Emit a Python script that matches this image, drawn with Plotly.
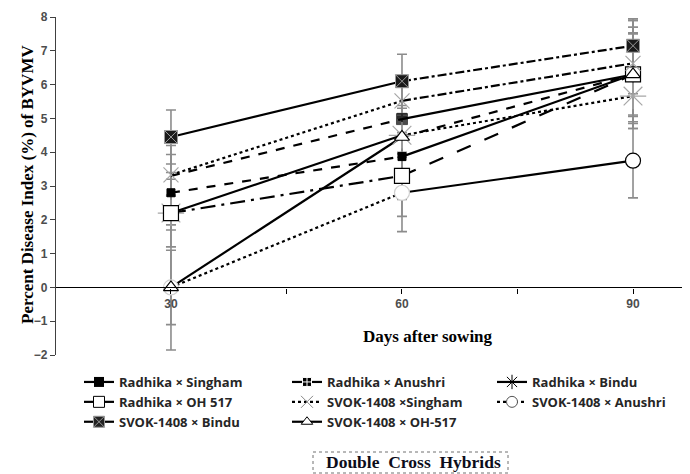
import plotly.graph_objects as go

# ---------------- data ----------------
days = [30, 60, 90]
x_tick_vals = [30, 45, 60, 75, 90]
x_tick_text = ["30", "", "60", "", "90"]

series_names = [
    "Radhika × Singham", "Radhika × Anushri", "Radhika × Bindu",
    "Radhika × OH 517", "SVOK-1408 ×Singham", "SVOK-1408 × Anushri",
    "SVOK-1408 × Bindu", "SVOK-1408 × OH-517",
]

radhika_singham = [3.3, 4.98, 6.3]
radhika_anushri = [2.8, 3.87, 6.3]
radhika_bindu = [2.2, 4.5, 5.66]
radhika_oh517 = [2.2, 3.3, 6.3]
svok_singham = [3.33, 5.52, 6.63]
svok_anushri = [0.0, 2.8, 3.75]
svok_bindu = [4.45, 6.1, 7.15]
svok_oh517 = [0.0, 4.45, 6.3]

err_radhika_singham = [0.9, 0.4, 1.6]
err_radhika_anushri = [0.6, 1.27, 1.6]
err_radhika_bindu = [1.0, 0.5, 0.6]
err_radhika_oh517 = [0.5, 1.2, 1.4]
err_svok_singham = [0.6, 0.5, 0.9]
err_svok_anushri = [1.85, 1.15, 1.1]
err_svok_bindu = [0.8, 0.8, 0.8]
err_svok_oh517 = [1.1, 0.6, 1.2]

values = [radhika_singham, radhika_anushri, radhika_bindu, radhika_oh517,
          svok_singham, svok_anushri, svok_bindu, svok_oh517]
errors = [err_radhika_singham, err_radhika_anushri, err_radhika_bindu, err_radhika_oh517,
          err_svok_singham, err_svok_anushri, err_svok_bindu, err_svok_oh517]

# ---------------- styles ----------------
seg_dash = [
    ["dash", "solid"],          # Radhika x Singham
    ["dash", "solid"],          # Radhika x Anushri
    ["solid", "dot"],           # Radhika x Bindu
    ["longdashdot", "longdash"],# Radhika x OH 517
    ["dot", "dashdot"],         # SVOK x Singham
    ["dot", "solid"],           # SVOK x Anushri
    ["solid", "dashdot"],       # SVOK x Bindu
    ["solid", "dash"],          # SVOK x OH-517
]
legend_dash = ["solid", "solid", "solid", "solid", "dot", "dot", "solid", "solid"]
legend_column = ["legend", "legend2", "legend3", "legend", "legend2", "legend3", "legend", "legend2"]

GRAY = "#a6a6a6"
markers = [
    dict(symbol="square", size=[0, 11, 11], color="black", line=dict(color="black", width=1)),
    dict(symbol="square", size=8, color="black", line=dict(color="black", width=1)),
    dict(symbol="asterisk-open", size=22, color=GRAY, line=dict(color=GRAY, width=1.2)),
    dict(symbol="square", size=15, color="white", line=dict(color="black", width=1.2)),
    dict(symbol="x-thin-open", size=15, color=GRAY, line=dict(color=GRAY, width=1.2)),
    dict(symbol="circle", size=15, color="white",
         line=dict(color=["#d0d0d0", "#d0d0d0", "black"], width=1.2)),
    dict(symbol="square-x", size=13, color="#1a1a1a", line=dict(color="#9a9a9a", width=1)),
    dict(symbol="triangle-up", size=13, color="white", line=dict(color="black", width=1.2)),
]
legend_markers = [
    dict(symbol="square", size=10, color="black"),
    dict(symbol="square-cross", size=9, color="black", line=dict(color="white", width=1)),
    dict(symbol="asterisk-open", size=12, color="black", line=dict(color="black", width=1)),
    dict(symbol="square", size=11, color="white", line=dict(color="black", width=1)),
    dict(symbol="x-thin-open", size=12, color="#888", line=dict(color="#888", width=1)),
    dict(symbol="circle", size=11, color="white", line=dict(color="#555", width=1)),
    dict(symbol="square-x", size=11, color="#222", line=dict(color="#999", width=1)),
    dict(symbol="triangle-up", size=10, color="white", line=dict(color="black", width=1)),
]

fig = go.Figure()

for v, e in zip(values, errors):
    fig.add_trace(go.Scatter(
        x=days, y=v, mode="markers", marker=dict(size=0, opacity=0),
        error_y=dict(type="data", array=e, visible=True, color="#8c8c8c", thickness=1.6, width=5),
        showlegend=False, hoverinfo="skip"))

for v, dashes in zip(values, seg_dash):
    for i in range(len(days) - 1):
        fig.add_trace(go.Scatter(
            x=days[i:i + 2], y=v[i:i + 2], mode="lines",
            line=dict(color="black", width=2.2, dash=dashes[i]),
            showlegend=False, hoverinfo="skip"))

for v, m in zip(values, markers):
    fig.add_trace(go.Scatter(x=days, y=v, mode="markers", marker=m, showlegend=False))

for name, d, m, lg in zip(series_names, legend_dash, legend_markers, legend_column):
    fig.add_trace(go.Scatter(
        x=[None], y=[None], mode="lines+markers", name=name, legend=lg,
        line=dict(color="black", width=2.2, dash=d), marker=m))

# page body has an 8px margin, so the figure is drawn 8px right/down
OFF = 8
W, H = 690 - OFF, 474 - OFF
L, T = 55 - OFF, 17 - OFF
B = H - (355 - OFF)
R = 0
pw, ph = W - L - R, H - T - B
y0_frac = 2 / 10.0


def px(xp):
    return (xp - OFF - L) / pw


def py(yp):
    return (H - B - (yp - OFF)) / ph


legend_font = dict(size=13, color="#262626", family="Open Sans, Liberation Sans, sans-serif", weight="bold")


def legend_at(xpix):
    return dict(orientation="v", x=px(xpix), y=py(367), xanchor="left", yanchor="top",
                traceorder="normal", font=legend_font, itemwidth=30,
                bgcolor="rgba(0,0,0,0)", tracegroupgap=0)


fig.update_layout(
    width=W, height=H,
    margin=dict(l=L, r=R, t=T, b=B),
    paper_bgcolor="white", plot_bgcolor="white",
    font=dict(family="Liberation Sans, Arial, sans-serif", color="#404040"),
    xaxis=dict(
        range=[14.94, 97.4], tickvals=x_tick_vals, ticktext=x_tick_text,
        anchor="free", position=y0_frac, showline=True, linecolor="black", linewidth=1.3,
        ticks="outside", ticklen=5, tickcolor="black", showgrid=False, zeroline=False,
        tickfont=dict(size=12, color="#4d4d4d", weight="bold"),
    ),
    yaxis=dict(
        range=[-2, 8], dtick=1, anchor="free", position=0,
        showline=True, linecolor="#404040", linewidth=1.3,
        ticks="outside", ticklen=5, tickcolor="#404040", showgrid=False, zeroline=False,
        tickfont=dict(size=12, color="#4d4d4d", weight="bold"),
    ),
    legend=legend_at(79),
    legend2=legend_at(287),
    legend3=legend_at(492),
    showlegend=True,
)

serif = "Liberation Serif, Times New Roman, serif"
fig.add_annotation(
    x=px(27), y=py(185), xref="paper", yref="paper", text="Percent Disease Index (%) of BYVMV",
    textangle=-90, showarrow=False, xanchor="center", yanchor="middle",
    font=dict(family=serif, size=17, color="black", weight="bold"))
fig.add_annotation(
    x=px(428), y=py(336), xref="paper", yref="paper", text="Days after sowing",
    showarrow=False, xanchor="center", yanchor="middle",
    font=dict(family=serif, size=17, color="black", weight="bold"))
fig.add_shape(
    type="rect", xref="paper", yref="paper", x0=px(313), x1=px(508), y0=py(452), y1=py(473),
    line=dict(color="#707070", width=1, dash="dot"))
fig.add_annotation(
    x=px(413), y=py(462), xref="paper", yref="paper", text="Double  Cross  Hybrids",
    showarrow=False, xanchor="center", yanchor="middle",
    font=dict(family=serif, size=17.5, color="#0d0d1a", weight="bold"))

fig.write_html("out.html")
